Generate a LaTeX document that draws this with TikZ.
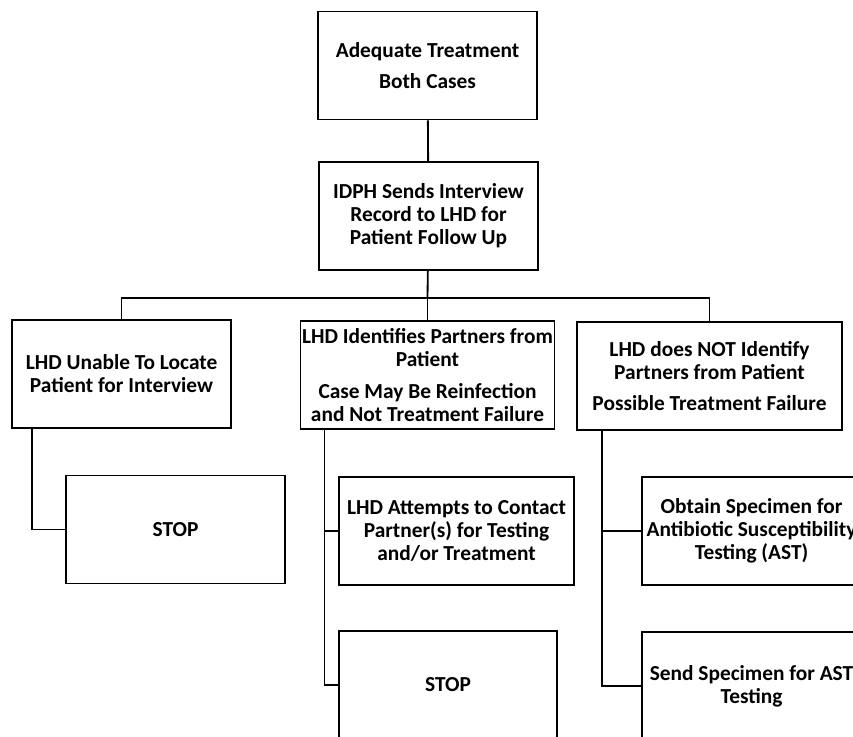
\documentclass[tikz,border=0pt]{standalone}
\usepackage{fontspec}
\setmainfont{Carlito}

\tikzset{
  box/.style={draw, line width=1.3pt, rectangle, align=center, inner sep=0pt,
    minimum width=5.475cm, minimum height=2.7cm,
    font=\bfseries\fontsize{15.2}{16.4}\selectfont},
  link/.style={line width=1.3pt}
}

\begin{document}
\begin{tikzpicture}[x=0.025cm,y=-0.025cm]
    \clip (0,0) rectangle (853,736);
    \node[box] (adq) at (427.5,65.5) {Adequate Treatment\\[6pt]Both Cases};
    \node[box] (idph) at (428.5,216) {IDPH Sends Interview\\Record to LHD for\\Patient Follow Up};
    \node[box] (unable) at (121.5,374) {LHD Unable To Locate\\Patient for Interview};
    \node[box,minimum width=6.35cm] (ident) at (427.5,375)
      {LHD Identifies Partners from\\Patient\\[6pt]Case May Be Reinfection\\and Not Treatment Failure};
    \node[box,minimum width=6.625cm] (noid) at (709.5,376)
      {LHD does NOT Identify\\Partners from Patient\\[6pt]Possible Treatment Failure};
    \node[box] (stop1) at (175.5,529.5) {STOP};
    \node[box,minimum width=5.875cm] (contact) at (456.5,531)
      {LHD Attempts to Contact\\Partner(s) for Testing\\and/or Treatment};
    \node[box,minimum width=5.45cm] (stop2) at (448,685) {STOP};
    \node[box] (obtain) at (751.5,531)
      {Obtain Specimen for\\Antibiotic Susceptibility\\Testing (AST)};
    \node[box] (send) at (751.5,686) {Send Specimen for AST\\Testing};
    \coordinate (split) at (427.5,298);

    \draw[link] (adq) -- (idph);
    \draw[link] (idph) -- (split);
    \draw[link] (unable.north) |- (split) -| (noid.north);
    \draw[link] (split) -- (ident.north);
    \draw[link] ([xshift=0.525cm]unable.south west) |- (stop1.west);
    \draw[link] ([xshift=0.625cm]ident.south west) |- (contact.west);
    \draw[link] ([xshift=0.625cm]ident.south west) |- (stop2.west);
    \draw[link] ([xshift=0.65cm]noid.south west) |- (obtain.west);
    \draw[link] ([xshift=0.65cm]noid.south west) |- (send.west);
  \end{tikzpicture}
\end{document}
